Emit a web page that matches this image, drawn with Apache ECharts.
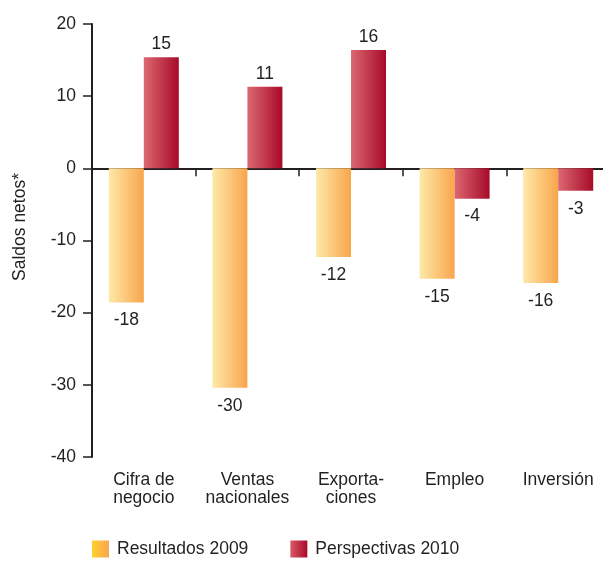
<!DOCTYPE html>
<html>
<head>
<meta charset="utf-8">
<script src="https://cdn.jsdelivr.net/npm/echarts@6/dist/echarts.min.js"></script>
<style>
html,body{margin:0;padding:0;background:#fff;overflow:hidden;width:603px;height:561px;}
#c{width:610px;height:561px;}
</style>
</head>
<body>
<div id="c"></div>
<script>
var categories = ['Cifra de\nnegocio', 'Ventas\nnacionales', 'Exporta-\nciones', 'Empleo', 'Inversión'];
var resultados2009 = [-18.6, -30.4, -12.3, -15.3, -15.9];
var perspectivas2010 = [15.4, 11.3, 16.4, -4.2, -3.1];
var labels2009 = ['-18', '-30', '-12', '-15', '-16'];
var labels2010 = ['15', '11', '16', '-4', '-3'];
var seriesNames = ['Resultados 2009', 'Perspectivas 2010'];
var yTicks = [-40, -30, -20, -10, 0, 10, 20];

var FONT = '"Liberation Sans", Arial, Helvetica, sans-serif';
var TXT = '#231f20';
var FS = 17.5;

function grad(c0, c1) {
  return new echarts.graphic.LinearGradient(0, 0, 1, 0, [
    {offset: 0, color: c0}, {offset: 1, color: c1}
  ]);
}
var orangeGrad = grad('#fee9a8', '#f8a54c');
var redGrad = grad('#dc6870', '#a70a2a');

function mkData(vals, labs) {
  return vals.map(function (v, i) {
    return {
      value: v,
      label: {
        position: v >= 0 ? 'top' : 'bottom',
        distance: v >= 0 ? 4 : 9,
        formatter: labs[i]
      }
    };
  });
}

var chart = echarts.init(document.getElementById('c'), null, {renderer: 'canvas'});
chart.setOption({
  animation: false,
  textStyle: {fontFamily: FONT},
  grid: {left: 92, top: 24, right: 0, bottom: 104, containLabel: false},
  legend: {
    left: 87, top: 535,
    itemWidth: 17, itemHeight: 17, itemGap: 42,
    textStyle: {fontFamily: FONT, fontSize: FS, color: TXT, padding: [0, 0, 0, 3]},
    data: [
      {name: seriesNames[0], icon: 'rect', itemStyle: {color: grad('#ffd02c', '#f9a752')}},
      {name: seriesNames[1], icon: 'rect', itemStyle: {color: grad('#d95a66', '#a70a2a')}}
    ]
  },
  xAxis: [
    {
      type: 'category', data: categories, position: 'bottom',
      axisLine: {show: false, onZero: false}, axisTick: {show: false},
      axisLabel: {fontFamily: FONT, fontSize: FS, color: TXT, margin: 14, lineHeight: 18, interval: 0}
    },
    {
      type: 'category', data: categories, position: 'bottom',
      axisLine: {show: true, onZero: true, lineStyle: {color: TXT, width: 2}},
      axisTick: {show: true, length: 8, lineStyle: {color: TXT, width: 1.5}},
      axisLabel: {show: false}
    }
  ],
  yAxis: {
    type: 'value', min: -40, max: 20, interval: 10,
    axisLine: {show: true, lineStyle: {color: TXT, width: 2}},
    axisTick: {show: true, length: 9, lineStyle: {color: TXT, width: 1.5}},
    splitLine: {show: false},
    axisLabel: {fontFamily: FONT, fontSize: FS, color: TXT, margin: 16,
      formatter: function (v) { return yTicks.indexOf(v) >= 0 ? String(v) : ''; }}
  },
  graphic: [{
    type: 'text', left: 11, top: 173, rotation: Math.PI / 2,
    style: {text: 'Saldos netos*', fontFamily: FONT, fontSize: FS, fill: TXT}
  }],
  series: [
    {
      name: seriesNames[0], type: 'bar', xAxisIndex: 0, barWidth: 35, barGap: '0%',
      itemStyle: {color: orangeGrad},
      label: {show: true, fontFamily: FONT, fontSize: FS, color: TXT},
      data: mkData(resultados2009, labels2009)
    },
    {
      name: seriesNames[1], type: 'bar', xAxisIndex: 0, barWidth: 35, barGap: '0%',
      itemStyle: {color: redGrad},
      label: {show: true, fontFamily: FONT, fontSize: FS, color: TXT},
      data: mkData(perspectivas2010, labels2010)
    }
  ]
});
</script>
</body>
</html>
